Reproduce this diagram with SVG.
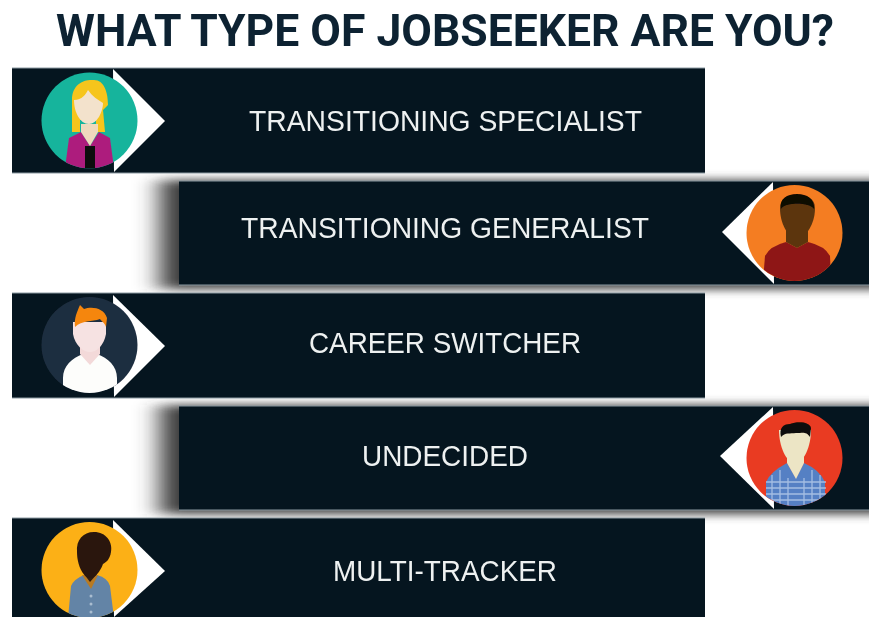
<svg xmlns="http://www.w3.org/2000/svg" width="869" height="617" viewBox="0 0 869 617">
<style>
.bar{fill:#05151f}
.edge{stroke:#8c9aa2;stroke-width:1;fill:none}
.tip{fill:#fff}
.label{font-family:"Liberation Sans",Arial,sans-serif;font-size:30px;fill:#eef1f1;text-anchor:middle;filter:url(#soft)}
.title{font-family:"Roboto","Liberation Sans",sans-serif;font-weight:700;font-size:44px;fill:#0b2433;text-anchor:middle;filter:url(#soft)}
.av{filter:url(#soft)}
.shadow{fill:#3a3a3a;filter:url(#sh)}
</style>
<defs>
<filter id="soft" x="-5%" y="-10%" width="110%" height="120%"><feGaussianBlur stdDeviation="0.55"/></filter>
<filter id="sh" filterUnits="userSpaceOnUse" x="100" y="140" width="800" height="420"><feGaussianBlur stdDeviation="12 5"/></filter>
<clipPath id="c1"><circle cx="89.5" cy="120.5" r="48"/></clipPath>
<clipPath id="c2"><circle cx="794.5" cy="233" r="48"/></clipPath>
<clipPath id="c3"><circle cx="89.5" cy="345" r="48"/></clipPath>
<clipPath id="c4"><circle cx="794.5" cy="458" r="48"/></clipPath>
<clipPath id="c5"><circle cx="89.5" cy="570" r="48"/></clipPath>
</defs>
<rect width="869" height="617" fill="#fff"/>
<text class="title" x="445" y="45.500" textLength="778" lengthAdjust="spacingAndGlyphs">WHAT TYPE OF JOBSEEKER ARE YOU?</text>

<rect class="shadow" x="160" y="180" width="760" height="109"/>
<rect class="shadow" x="160" y="405" width="760" height="109"/>

<g id="node-transitioning-specialist">
<rect class="bar" x="12" y="68" width="693" height="105"/>
<path class="edge" d="M12 68H705M12 173H705"/>
<path class="tip" d="M113 69L165 121L114 172Z"/>
<circle class="av" cx="89.500" cy="120.500" r="48" fill="#14b49c"/>
<g clip-path="url(#c1)" class="av">
<path d="M72 100C72 84 84 79 94 80C104 80 108 92 108 105L103 110L105 132H96V120H80V132H72Z" fill="#f6c51c"/>
<path d="M65 168L69 138L81 132L90 146L99 132L110 138L114 168Z" fill="#ad1f7d"/>
<path d="M85 146H95V170H85Z" fill="#111"/>
<path d="M81 124H98V132L90 146L81 132Z" fill="#efd9bd"/>
<path d="M74 100C82 100 86 94 88 90C92 96 98 100 103 103C103 112 97 124 89 124C80 124 74 112 74 100Z" fill="#f3e2cc"/>
</g>
<text class="label" x="445.500" y="131" textLength="393" lengthAdjust="spacingAndGlyphs">TRANSITIONING SPECIALIST</text>
</g>

<g id="node-transitioning-generalist">
<rect class="bar" x="179" y="181" width="691" height="104"/>
<path class="edge" d="M179 181H869M179 285H869"/>
<path class="tip" d="M773 182L722 232L774 284Z"/>
<circle class="av" cx="794.500" cy="233" r="48" fill="#f47d20"/>
<g clip-path="url(#c2)" class="av">
<path d="M763 281L765 256Q770 246 786 242L797 248L808 242Q825 246 830 256L831 281Z" fill="#8e1519"/>
<path d="M786 226H808V242L797 248L786 242Z" fill="#5c3610"/>
<path d="M780 208C780 198 788 195 797 195C806 195 815 198 815 208C815 224 806 238 797 238C788 238 780 224 780 208Z" fill="#5c3610"/>
<path d="M781 209C779 199 787 194 797 194C807 194 815 199 814 209C810 202 784 202 781 209Z" fill="#0c0805"/>
</g>
<text class="label" x="445" y="238" textLength="408" lengthAdjust="spacingAndGlyphs">TRANSITIONING GENERALIST</text>
</g>

<g id="node-career-switcher">
<rect class="bar" x="12" y="293" width="693" height="105"/>
<path class="edge" d="M12 293H705M12 398H705"/>
<path class="tip" d="M113 295L165 346L114 397Z"/>
<circle class="av" cx="89.500" cy="345" r="48" fill="#1f2e40"/>
<g clip-path="url(#c3)" class="av">
<path d="M63 393V378C63 366 72 358 83 354L90 362L97 354C108 358 117 366 117 378V393Z" fill="#fdfdfb"/>
<path d="M80 342H100V354L90 365L80 354Z" fill="#f3d9d9"/>
<path d="M73 322H106V334C104 345 97 352 90 352C83 352 75 345 73 334Z" fill="#f6e2e2"/>
<path d="M75 327C74 318 77 312 80 305L84 309C92 306 104 308 107 318L106 327C104 322 102 322 100 319C92 322 82 320 75 327Z" fill="#f5860f"/>
</g>
<text class="label" x="445" y="353" textLength="272" lengthAdjust="spacingAndGlyphs">CAREER SWITCHER</text>
</g>

<g id="node-undecided">
<rect class="bar" x="179" y="406" width="691" height="104"/>
<path class="edge" d="M179 406H869M179 510H869"/>
<path class="tip" d="M773 407L720 456L774 509Z"/>
<circle class="av" cx="794.500" cy="458" r="48" fill="#e93a23"/>
<g clip-path="url(#c4)" class="av">
<path d="M766 506V482Q770 472 787 463L796 478L804 463Q820 470 825 482V506Z" fill="#5480c4"/>
<g stroke="#b3c8e8" stroke-width="1.300" fill="none" opacity=".85">
<path d="M766 482H826M766 488H826M766 494H826M766 500H826M772 475V506M780 470V506M788 478V506M804 478V506M812 470V506M820 475V506"/>
</g>
<path d="M787 450H804V463L796 479L787 463Z" fill="#ece5c5"/>
<path d="M779 430H811C811 446 804 463 795 463C786 463 779 446 779 430Z" fill="#ece5c5"/>
<path d="M781 437C779 428 783 424 790 424C798 421 810 422 811 428L810 437C806 431 803 433 796 433C790 434 785 432 781 437Z" fill="#0d0a08"/>
</g>
<text class="label" x="445" y="466" textLength="166" lengthAdjust="spacingAndGlyphs">UNDECIDED</text>
</g>

<g id="node-multi-tracker">
<rect class="bar" x="12" y="518" width="693" height="99"/>
<path class="edge" d="M12 518H705"/>
<path class="tip" d="M113 520L165 571L114 617Z"/>
<circle class="av" cx="89.500" cy="570" r="48" fill="#fcb017"/>
<g clip-path="url(#c5)" class="av">
<path d="M68 618L71 586Q74 579 84 575H97Q108 578 110 586L114 618Z" fill="#6384a6"/>
<path d="M82 575H98L91 589Z" fill="#b87a23"/>
<path d="M84 564H97V574L90 582L84 574Z" fill="#2e1a0c"/>
<path d="M77 552C76 540 83 532 94 532C106 532 113 542 111 552C110 560 105 563 103 564C100 572 95 578 90 578C84 578 77 566 77 552Z" fill="#2b180b"/>
<g fill="#a9bdd0"><circle cx="91" cy="596" r="1.500"/><circle cx="91" cy="604" r="1.500"/><circle cx="91" cy="612" r="1.500"/></g>
</g>
<text class="label" x="445" y="581" textLength="224" lengthAdjust="spacingAndGlyphs">MULTI-TRACKER</text>
</g>
<g id="connectors"/>
</svg>
